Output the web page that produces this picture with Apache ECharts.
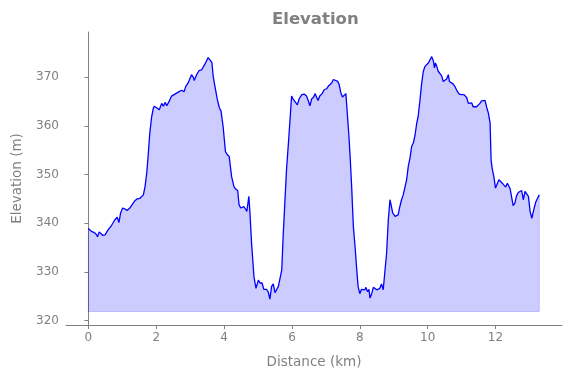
<!DOCTYPE html>
<html>
<head>
<meta charset="utf-8">
<script src="https://cdn.jsdelivr.net/npm/echarts@6/dist/echarts.min.js"></script>
<style>
html,body{margin:0;padding:0;background:#fff;}
#main{width:571px;height:378px;}
</style>
</head>
<body>
<div id="main"></div>
<script>
// distance along the track (km)
var DIST = [0.00,0.04,0.09,0.16,0.22,0.27,0.32,0.36,0.42,0.49,0.58,0.68,0.78,0.85,0.90,0.95,1.01,1.08,1.14,1.22,
  1.30,1.37,1.44,1.52,1.57,1.62,1.67,1.72,1.76,1.81,1.86,1.91,1.94,2.01,2.09,2.16,2.21,2.26,2.31,2.38,
  2.45,2.55,2.65,2.75,2.82,2.87,2.94,2.99,3.04,3.09,3.12,3.19,3.27,3.34,3.38,3.43,3.48,3.53,3.58,3.64,
  3.68,3.73,3.80,3.86,3.91,3.97,4.04,4.09,4.15,4.22,4.29,4.34,4.40,4.44,4.49,4.53,4.58,4.63,4.67,4.73,
  4.76,4.81,4.88,4.94,5.01,5.06,5.12,5.17,5.25,5.30,5.35,5.40,5.45,5.50,5.55,5.60,5.65,5.70,5.74,5.79,
  5.84,5.91,5.97,5.99,6.04,6.09,6.16,6.21,6.29,6.36,6.43,6.48,6.53,6.58,6.64,6.68,6.73,6.77,6.82,6.89,
  6.95,7.02,7.07,7.12,7.17,7.22,7.27,7.35,7.39,7.44,7.49,7.54,7.59,7.63,7.68,7.72,7.76,7.81,7.86,7.91,
  7.95,8.00,8.05,8.10,8.15,8.18,8.23,8.27,8.30,8.35,8.40,8.45,8.50,8.54,8.59,8.64,8.69,8.74,8.79,8.84,
  8.89,8.92,8.97,9.04,9.09,9.13,9.18,9.23,9.28,9.33,9.38,9.43,9.48,9.53,9.58,9.63,9.68,9.72,9.77,9.82,
  9.87,9.92,9.97,10.02,10.07,10.12,10.17,10.20,10.23,10.27,10.31,10.36,10.41,10.46,10.51,10.56,10.61,10.64,10.69,10.75,
  10.80,10.87,10.93,11.00,11.07,11.12,11.15,11.20,11.25,11.30,11.34,11.39,11.44,11.49,11.54,11.59,11.64,11.69,11.74,11.79,
  11.84,11.87,11.90,11.95,12.00,12.05,12.10,12.15,12.20,12.25,12.30,12.35,12.40,12.43,12.48,12.52,12.57,12.62,12.67,12.72,
  12.77,12.82,12.87,12.92,12.97,13.02,13.07,13.11,13.14,13.19,13.24,13.29];

// elevation (m)
var ELEV = [338.9,338.6,338.3,338.1,337.8,337.2,338.2,337.9,337.5,337.6,338.6,339.5,340.7,341.2,340.1,342.1,343.1,342.9,342.6,343.1,
  343.9,344.6,345.0,345.1,344.7,345.8,347.5,350.3,353.7,358.5,361.6,363.5,364.0,363.7,363.3,364.6,364.0,364.8,364.1,365.0,
  366.1,366.5,366.9,367.3,367.0,368.1,368.8,369.1,370.5,370.0,369.3,370.5,371.4,371.5,371.7,372.6,373.3,374.0,373.7,373.0,
  370.1,368.1,365.4,363.7,363.0,359.9,354.7,354.1,353.7,349.6,347.5,347.0,346.7,343.8,343.1,342.9,343.4,342.9,342.4,345.5,
  342.4,335.9,329.0,326.6,328.3,327.7,327.7,326.4,326.4,325.9,324.4,327.0,327.5,325.7,325.3,327.0,326.6,330.4,337.2,344.1,
  351.0,357.8,364.0,366.1,365.4,365.0,364.3,365.5,366.4,366.5,366.1,365.2,364.1,365.5,365.9,366.6,366.2,365.2,366.1,366.6,
  367.4,367.6,368.1,368.3,368.8,369.5,369.8,369.1,368.5,366.8,365.9,366.1,366.6,366.4,357.8,353.0,347.5,339.3,335.2,330.4,
  327.0,325.5,326.4,326.1,326.3,326.8,325.9,326.4,324.6,325.5,326.8,326.6,326.3,326.3,326.6,327.5,326.3,326.4,333.8,340.7,
  344.8,345.1,342.1,341.4,341.2,341.7,343.4,344.8,345.8,346.0,348.9,351.7,353.4,355.8,356.5,358.2,360.6,361.9,365.0,368.5,
  371.1,372.2,372.6,372.9,373.3,374.2,373.3,371.9,372.9,372.2,371.2,370.9,370.3,369.1,369.3,369.6,370.5,369.1,368.7,368.6,
  368.1,367.1,366.5,366.4,366.4,366.6,365.8,364.6,364.8,364.7,363.9,364.1,363.9,364.3,364.6,365.1,365.2,365.2,363.8,362.6,
  360.6,353.0,351.3,349.6,347.2,347.0,348.9,348.6,348.2,348.1,347.4,348.2,347.9,347.1,346.9,343.6,344.1,345.6,346.3,346.5,
  346.7,344.8,346.5,346.0,345.5,342.4,341.0,341.0,343.1,344.4,345.1,345.8];

var X_TICKS = [0, 2, 4, 6, 8, 10, 12];
var Y_TICKS = [320, 330, 340, 350, 360, 370];
var BASE = 321.85; // floor of the shaded area

var profile = [];
for (var i = 0; i < DIST.length; i++) {
  profile.push([DIST[i], ELEV[i]]);
}
var last = DIST.length - 1;
// outline of the filled polygon (left, bottom, right edges)
var outline = [[DIST[0], ELEV[0]], [DIST[0], BASE], [DIST[last], BASE], [DIST[last], ELEV[last]]];

var grey = '#808080';
var chart = echarts.init(document.getElementById('main'));
chart.setOption({
  animation: false,
  title: {
    text: 'Elevation',
    left: 267,
    top: 6,
    textStyle: {color: grey, fontFamily: 'DejaVu Sans', fontSize: 16.5, fontWeight: 'bold'}
  },
  grid: {left: 66, right: 9, top: 32, bottom: 53},
  xAxis: {
    type: 'value',
    min: -0.66,
    max: 13.96,
    name: 'Distance (km)',
    nameLocation: 'middle',
    nameGap: 30,
    nameTextStyle: {color: grey, fontFamily: 'DejaVu Sans', fontSize: 13.5},
    axisLine: {show: true, lineStyle: {color: grey, width: 1}},
    axisTick: {show: true, length: 4, customValues: X_TICKS, lineStyle: {color: grey}},
    axisLabel: {customValues: X_TICKS, color: grey, fontFamily: 'DejaVu Sans', fontSize: 12, margin: 7},
    splitLine: {show: false}
  },
  yAxis: {
    type: 'value',
    min: 319.07,
    max: 379.26,
    name: 'Elevation (m)',
    nameLocation: 'middle',
    nameGap: 42,
    nameTextStyle: {color: grey, fontFamily: 'DejaVu Sans', fontSize: 13.5},
    axisLine: {show: true, lineStyle: {color: grey, width: 1}},
    axisTick: {show: true, length: 4, customValues: Y_TICKS, lineStyle: {color: grey}},
    axisLabel: {customValues: Y_TICKS, color: grey, fontFamily: 'DejaVu Sans', fontSize: 12, margin: 7},
    splitLine: {show: false}
  },
  series: [
    {
      type: 'line',
      data: outline,
      symbol: 'none',
      silent: true,
      lineStyle: {color: 'rgba(0,0,255,0.2)', width: 1},
      z: 1
    },
    {
      type: 'line',
      data: profile,
      symbol: 'none',
      lineStyle: {color: '#0000ff', width: 1.3},
      areaStyle: {color: 'rgba(0,0,255,0.2)', opacity: 1, origin: BASE},
      z: 2
    }
  ]
});
</script>
</body>
</html>
